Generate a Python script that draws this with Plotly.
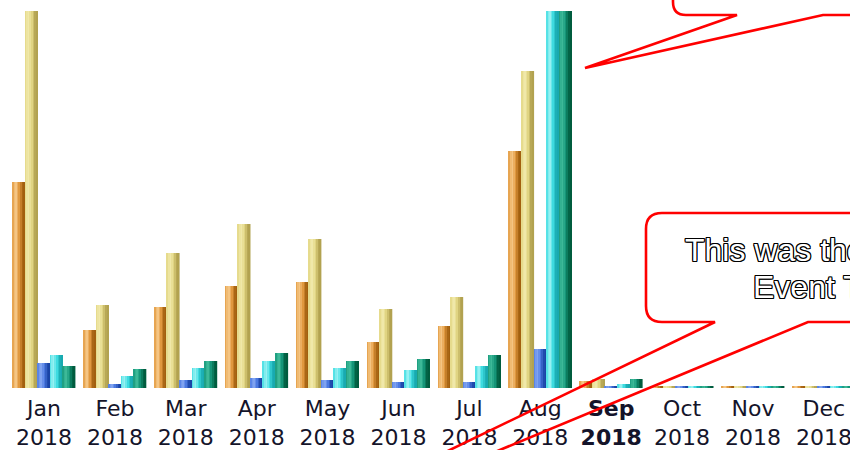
import plotly.graph_objects as go

# ---------------- data ----------------
months = ["Jan", "Feb", "Mar", "Apr", "May", "Jun", "Jul", "Aug", "Sep", "Oct", "Nov", "Dec"]
year = "2018"
series_names = ["Series A", "Series B", "Series C", "Series D", "Series E"]
orange_vals = [206, 58, 81, 102, 106, 46, 62, 237, 7, 1.5, 1.5, 1.5]
yellow_vals = [377, 83, 135, 164, 149, 79, 91, 317, 9, 1.5, 1.5, 1.5]
blue_vals = [25, 4, 8, 10, 8, 6, 6, 39, 2, 1.5, 1.5, 1.5]
cyan_vals = [33, 12, 20, 27, 20, 18, 22, 377, 4, 1.5, 1.5, 1.5]
green_vals = [22, 19, 27, 35, 27, 29, 33, 377, 9, 1.5, 1.5, 1.5]
bold_month = "Sep"

callout_line1 = "This was the start of the"
callout_line2 = "Event Tracking"

# ---------------- style ----------------
W, H = 850, 450
MB = 62               # bottom margin (px)
PH = H - MB           # plot height (px)
center0 = 44.0        # px of first group centre
spacing = 70.9        # px between groups
bar_w = 12.54 / spacing
N_STRIPES = 8

# (light, mid, dark) per series for the cylinder shading
palettes = [
    ("#F7CB8C", "#E39A40", "#A2600F"),
    ("#F2EBAE", "#E2D684", "#B2A250"),
    ("#86A8F2", "#4D7BE2", "#1A44A6"),
    ("#A2F4F4", "#40DDE2", "#18AAB0"),
    ("#42BE9C", "#16977A", "#005C3E"),
]
values = [orange_vals, yellow_vals, blue_vals, cyan_vals, green_vals]


def hex2rgb(h):
    h = h.lstrip("#")
    return [int(h[i:i + 2], 16) for i in (0, 2, 4)]


def mix(c1, c2, t):
    a, b = hex2rgb(c1), hex2rgb(c2)
    return "rgb(%d,%d,%d)" % tuple(round(a[i] + (b[i] - a[i]) * t) for i in range(3))


def shade(pal, p):
    light, mid, dark = pal
    stops = [(0.0, mid), (0.28, light), (0.55, mid), (0.85, dark), (1.0, dark)]
    for (p0, c0), (p1, c1) in zip(stops[:-1], stops[1:]):
        if p0 <= p <= p1:
            return mix(c0, c1, (p - p0) / (p1 - p0) if p1 > p0 else 0)
    return dark


x_idx = list(range(len(months)))
fig = go.Figure()
sw = bar_w / N_STRIPES
for k, (name, vals, pal) in enumerate(zip(series_names, values, palettes)):
    bar_left = -2.5 * bar_w + k * bar_w
    for j in range(N_STRIPES):
        p = (j + 0.5) / N_STRIPES
        fig.add_trace(go.Bar(
            x=x_idx, y=vals, name=name,
            width=sw * 1.04, offset=bar_left + j * sw,
            marker=dict(color=shade(pal, p), line=dict(width=0)),
            showlegend=False, hoverinfo="y" if j == 0 else "skip",
        ))

ticktext = []
for m in months:
    t = f"{m}<br>{year}"
    if m == bold_month:
        t = f"<b>{m}<br>{year}</b>"
    ticktext.append(t)

fig.update_layout(
    width=W, height=H,
    margin=dict(l=0, r=0, t=0, b=MB, pad=0, autoexpand=False),
    barmode="overlay",
    plot_bgcolor="white", paper_bgcolor="white",
    xaxis=dict(range=[-center0 / spacing, (W - center0) / spacing],
               tickvals=x_idx, ticktext=ticktext, showgrid=False, zeroline=False,
               showline=False, ticks="", automargin=False, ticklabeloverflow="allow",
               ticklabelstandoff=5,
               tickfont=dict(family="DejaVu Sans", size=22, color="#14142a")),
    yaxis=dict(range=[0, PH], visible=False, showgrid=False, zeroline=False,
               automargin=False),
)


def px(x):
    return x / W


def py(y):
    return (PH - y) / PH


def path(points, closed=False):
    s = ""
    for i, pt in enumerate(points):
        if pt[0] == "Q":
            _, cx, cy, ex, ey = pt
            s += f" Q {px(cx):.5f},{py(cy):.5f} {px(ex):.5f},{py(ey):.5f}"
        else:
            s += (" M " if i == 0 else " L ") + f"{px(pt[0]):.5f},{py(pt[1]):.5f}"
    return s + (" Z" if closed else "")


red = dict(color="#FF0000", width=2.6)
# top callout (mostly off-canvas)
c1 = [(900, -60), (673, -60), (673, 2), ("Q", 673, 15, 686, 15), (737, 15),
      (585, 68), (823, 15), (900, 15)]
# lower callout with long tail pointing down-left
c2 = [(900, 213), (662, 213), ("Q", 646, 213, 646, 229), (646, 306),
      ("Q", 646, 322, 662, 322), (715, 322), (141, 599), (808, 322), (900, 322)]
for pts in (c1, c2):
    fig.add_shape(type="path", path=path(pts), xref="paper", yref="paper",
                  line=red, fillcolor="rgba(0,0,0,0)", layer="above")

outline = ("-1px -1px 0 #000, 1px -1px 0 #000, -1px 1px 0 #000, 1px 1px 0 #000,"
           " 0 -1px 0 #000, 0 1px 0 #000, -1px 0 0 #000, 1px 0 0 #000")
for txt, x0, yc in ((callout_line1, 683, 250), (callout_line2, 751, 287)):
    fig.add_annotation(text=txt, xref="paper", yref="paper", x=px(x0), y=py(yc),
                       xanchor="left", yanchor="middle", showarrow=False,
                       font=dict(family="Liberation Sans, Arial", size=32,
                                 color="white", shadow=outline))

fig.write_html(
    "out.html",
    config={"displayModeBar": False},
    post_script="document.body.style.margin='0';document.body.style.overflow='hidden';",
)
